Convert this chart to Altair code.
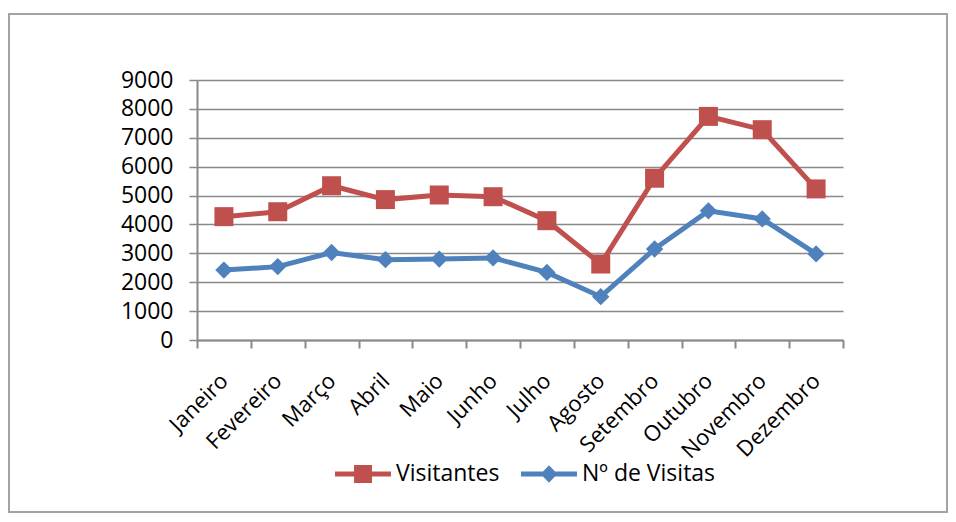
import altair as alt
import pandas as pd

months = ["Janeiro", "Fevereiro", "Março", "Abril", "Maio", "Junho",
          "Julho", "Agosto", "Setembro", "Outubro", "Novembro", "Dezembro"]
visitantes = [4270, 4440, 5340, 4860, 5020, 4960, 4130, 2630, 5600, 7740, 7280, 5230]
visitas = [2420, 2540, 3030, 2780, 2800, 2840, 2340, 1500, 3150, 4470, 4190, 2980]
series_names = ["Visitantes", "Nº de Visitas"]
series_colors = ["#C0504D", "#4F81BD"]
y_ticks = [0, 1000, 2000, 3000, 4000, 5000, 6000, 7000, 8000, 9000]

rows = []
for m, a, b in zip(months, visitantes, visitas):
    rows.append({"mes": m, "serie": series_names[0], "valor": a})
    rows.append({"mes": m, "serie": series_names[1], "valor": b})
df = pd.DataFrame(rows)

FONT = "Open Sans"
GRID = "#898989"

x_enc = alt.X(
    "mes:N", sort=months,
    scale=alt.Scale(type="band", paddingInner=0, paddingOuter=0),
    axis=alt.Axis(title=None, labelAngle=-45, labelAlign="right", labelBaseline="middle",
                  tickBand="extent", tickSize=8, labelPadding=29, labelOverlap=False,
                  labelFontSize=22,
                  domainColor=GRID, tickColor=GRID, domainWidth=2, tickWidth=2, grid=False),
)
y_enc = alt.Y(
    "valor:Q",
    scale=alt.Scale(domain=[0, 9000], nice=False),
    axis=alt.Axis(title=None, values=y_ticks, format="d", tickSize=8, labelPadding=16,
                  labelFontSize=23,
                  grid=True, gridColor=GRID, gridWidth=1.5, domainColor=GRID,
                  tickColor=GRID, domainWidth=2, tickWidth=1.5),
)
color_scale = alt.Scale(domain=series_names, range=series_colors)
legend_paths = [
    "M-1,-0.09H1V0.09H-1Z M-0.32,-0.32H0.32V0.32H-0.32Z",
    "M-1,-0.09H1V0.09H-1Z M0,-0.31L0.3,0L0,0.31L-0.3,0Z",
]
legend = alt.Legend(title=None, orient="none", direction="horizontal",
                    legendX=138, legendY=366, symbolSize=3136,
                    symbolStrokeWidth=0, labelOffset=5, columnPadding=21,
                    labelFont=FONT, labelFontSize=23, labelColor="black",
                    labelLimit=300)

base = alt.Chart(df)

lines = base.mark_line(strokeWidth=5).encode(
    x=x_enc, y=y_enc,
    color=alt.Color("serie:N", scale=color_scale, legend=legend),
    detail="serie:N",
)
squares = base.transform_filter(alt.datum.serie == series_names[0]).mark_point(
    shape="square", filled=True, size=361, opacity=1
).encode(x=x_enc, y=y_enc, color=alt.Color("serie:N", scale=color_scale, legend=legend))
diamonds = base.transform_filter(alt.datum.serie == series_names[1]).mark_point(
    shape="diamond", filled=True, size=300, opacity=1
).encode(x=x_enc, y=y_enc, color=alt.Color("serie:N", scale=color_scale, legend=legend))

legend_layer = base.transform_filter("false").mark_point(filled=True, opacity=1).encode(
    x=x_enc, y=y_enc,
    color=alt.Color("serie:N", scale=color_scale, legend=legend),
    shape=alt.Shape("serie:N", scale=alt.Scale(domain=series_names, range=legend_paths),
                    legend=legend),
)

border = alt.Chart(alt.Data(values=[{"b": 1}])).mark_rect(
    fillOpacity=0, stroke="#a3a3a3", strokeWidth=2
).encode(x=alt.value(-188), x2=alt.value(750), y=alt.value(-66), y2=alt.value(432))

chart = alt.layer(border, lines, squares, diamonds, legend_layer).properties(
    width=646, height=260,
    autosize=alt.AutoSizeParams(type="none"),
    padding={"left": 189, "top": 72, "right": 105, "bottom": 174},
).configure_view(strokeWidth=0).configure_axis(
    labelFont=FONT, labelColor="black"
)

chart.save("out.html", embed_options={"renderer": "svg", "actions": False})
